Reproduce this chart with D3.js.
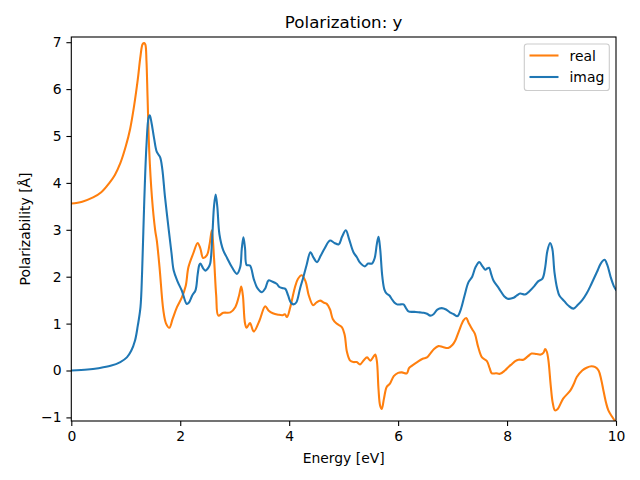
<!DOCTYPE html>
<html><head><meta charset="utf-8">
<script src="https://cdn.jsdelivr.net/npm/d3@7"></script>
<style>body{margin:0;background:#fff}svg{display:block;font-family:"DejaVu Sans",sans-serif}</style>
</head><body><svg id="c" width="640" height="480"></svg>
<script>
const realE=[0,0.2,0.4,0.55,0.7,0.8,0.9,1.0,1.08,1.15,1.22,1.27,1.31,1.34,1.36,1.38,1.40,1.43,1.48,1.54,1.57,1.62,1.69,1.74,1.80,1.86,1.94,2.03,2.1,2.15,2.24,2.32,2.37,2.42,2.49,2.54,2.58,2.62,2.66,2.70,2.79,2.92,3.01,3.08,3.12,3.15,3.19,3.22,3.28,3.35,3.45,3.56,3.62,3.7,3.8,3.88,3.92,3.96,4.02,4.1,4.16,4.23,4.3,4.36,4.44,4.5,4.57,4.63,4.69,4.75,4.8,4.87,4.97,5.02,5.06,5.12,5.18,5.24,5.30,5.37,5.43,5.49,5.55,5.58,5.61,5.64,5.67,5.70,5.74,5.79,5.85,5.92,6.0,6.07,6.16,6.2,6.25,6.35,6.45,6.53,6.59,6.66,6.74,6.82,6.92,7.0,7.05,7.12,7.2,7.25,7.3,7.36,7.41,7.47,7.54,7.63,7.68,7.72,7.8,7.87,7.96,8.03,8.09,8.15,8.21,8.30,8.38,8.45,8.54,8.62,8.67,8.70,8.73,8.76,8.8,8.84,8.88,8.93,9.03,9.16,9.22,9.28,9.38,9.46,9.55,9.62,9.68,9.73,9.77,9.82,9.86,9.92,9.98,10.0];
const realV=[3.56,3.6,3.69,3.8,4.0,4.17,4.42,4.78,5.15,5.62,6.2,6.7,6.96,6.98,6.95,6.6,5.83,4.7,3.70,2.99,2.77,2.2,1.28,1.0,0.91,1.1,1.35,1.56,1.8,2.2,2.5,2.72,2.6,2.40,2.46,2.7,2.99,2.4,1.6,1.17,1.23,1.24,1.35,1.6,1.79,1.6,1.0,0.91,1.01,0.83,1.05,1.37,1.28,1.22,1.19,1.18,1.2,1.14,1.35,1.75,1.95,2.03,1.9,1.6,1.39,1.45,1.49,1.45,1.42,1.3,1.1,1.0,0.92,0.75,0.4,0.21,0.18,0.18,0.13,0.22,0.28,0.21,0.3,0.34,0.2,-0.4,-0.75,-0.82,-0.6,-0.35,-0.28,-0.12,-0.05,-0.04,-0.06,0.05,0.1,0.18,0.25,0.28,0.36,0.46,0.52,0.50,0.48,0.55,0.64,0.85,1.07,1.12,1.0,0.88,0.78,0.5,0.28,0.2,0.05,-0.06,-0.06,-0.07,0.0,0.08,0.14,0.2,0.23,0.23,0.3,0.36,0.35,0.34,0.38,0.46,0.4,0.21,-0.3,-0.7,-0.85,-0.82,-0.6,-0.43,-0.3,-0.14,0.0,0.06,0.09,0.07,0.0,-0.2,-0.43,-0.7,-0.85,-0.97,-1.07,-1.08];
const imagE=[0,0.3,0.5,0.72,0.9,1.02,1.1,1.17,1.22,1.27,1.30,1.34,1.38,1.42,1.44,1.47,1.52,1.57,1.63,1.67,1.72,1.79,1.84,1.88,1.95,2.03,2.12,2.16,2.22,2.28,2.32,2.35,2.37,2.42,2.46,2.52,2.55,2.59,2.62,2.65,2.68,2.72,2.79,2.86,2.95,3.04,3.1,3.13,3.16,3.19,3.22,3.28,3.35,3.42,3.50,3.56,3.62,3.68,3.77,3.82,3.87,3.93,3.98,4.03,4.08,4.13,4.2,4.26,4.32,4.39,4.45,4.51,4.58,4.65,4.75,4.83,4.91,4.97,5.04,5.1,5.18,5.24,5.3,5.39,5.45,5.52,5.57,5.61,5.64,5.67,5.71,5.75,5.79,5.84,5.88,5.93,5.98,6.05,6.10,6.15,6.19,6.3,6.4,6.47,6.53,6.59,6.65,6.72,6.80,6.88,6.95,7.02,7.09,7.15,7.22,7.29,7.36,7.42,7.49,7.55,7.60,7.64,7.67,7.71,7.75,7.85,7.95,8.01,8.12,8.18,8.24,8.33,8.42,8.5,8.57,8.65,8.7,8.74,8.79,8.83,8.87,8.92,8.96,9.05,9.13,9.22,9.3,9.38,9.46,9.55,9.65,9.72,9.79,9.84,9.9,9.96,10.0];
const imagV=[0.0,0.02,0.05,0.1,0.18,0.28,0.42,0.64,0.95,1.35,2.1,3.63,4.8,5.4,5.44,5.3,4.95,4.66,4.55,4.3,3.7,2.99,2.5,2.13,1.9,1.7,1.42,1.45,1.6,1.71,2.05,2.25,2.28,2.18,2.13,2.2,2.28,2.9,3.5,3.75,3.5,2.9,2.56,2.4,2.2,2.06,2.2,2.6,2.84,2.6,2.25,2.24,1.95,1.75,1.67,1.75,1.92,1.9,1.85,1.78,1.76,1.74,1.6,1.45,1.41,1.45,1.75,1.99,2.25,2.52,2.4,2.31,2.45,2.6,2.77,2.72,2.69,2.85,2.99,2.8,2.52,2.42,2.3,2.22,2.28,2.28,2.4,2.7,2.85,2.6,2.0,1.72,1.64,1.6,1.53,1.45,1.41,1.41,1.41,1.32,1.26,1.25,1.24,1.23,1.21,1.17,1.2,1.3,1.33,1.3,1.24,1.2,1.16,1.3,1.6,1.88,2.0,2.2,2.31,2.22,2.15,2.18,2.19,2.05,1.92,1.75,1.58,1.53,1.55,1.6,1.64,1.62,1.7,1.8,1.9,1.96,2.2,2.55,2.72,2.6,2.1,1.75,1.60,1.48,1.38,1.32,1.4,1.5,1.64,1.85,2.1,2.28,2.36,2.25,2.0,1.8,1.72];
const xTicks=[0,2,4,6,8,10];
const yTicks=[-1,0,1,2,3,4,5,6,7];
const seriesNames=["real","imag"];
const seriesColors=["#ff7f0e","#1f77b4"];

const svg=d3.select("#c");
const L=71.3,R=616,T=37,B=421;
const x=d3.scaleLinear().domain([0,10]).range([L,R]);
const y=d3.scaleLinear().domain([-1,7]).range([417.4,42.2]);
const fs="13.9px";

svg.append("clipPath").attr("id","cl").append("rect").attr("x",L).attr("y",T).attr("width",R-L).attr("height",B-T);
const line=d3.line().x(d=>x(d[0])).y(d=>y(d[1])).curve(d3.curveCatmullRom.alpha(0.5));
const data=[d3.zip(realE,realV),d3.zip(imagE,imagV)];
const g=svg.append("g").attr("clip-path","url(#cl)");
data.forEach((d,i)=>g.append("path").datum(d).attr("d",line).attr("fill","none").attr("stroke",seriesColors[i]).attr("stroke-width",2.08).attr("stroke-linejoin","round").attr("stroke-linecap","square"));

const xa=svg.append("g").attr("transform",`translate(0,${B})`).call(d3.axisBottom(x).tickValues(xTicks).tickFormat(d3.format("d")).tickSize(4.9).tickPadding(4.9));
const ya=svg.append("g").attr("transform",`translate(${L},0)`).call(d3.axisLeft(y).tickValues(yTicks).tickFormat(d=>d<0?"\u2212"+(-d):d).tickSize(4.9).tickPadding(4.9));
[xa,ya].forEach(a=>{a.select(".domain").remove();a.selectAll("line").attr("stroke","#000").attr("stroke-width",1.1);a.selectAll("text").attr("font-size",fs).attr("font-family","DejaVu Sans").attr("fill","#000");});

svg.append("rect").attr("x",L).attr("y",T).attr("width",R-L).attr("height",B-T).attr("fill","none").attr("stroke","#000").attr("stroke-width",1.1);

svg.append("text").attr("x",(L+R)/2).attr("y",28).attr("text-anchor","middle").attr("font-size","16.67px").text("Polarization: y");
svg.append("text").attr("x",(L+R)/2).attr("y",463).attr("text-anchor","middle").attr("font-size",fs).text("Energy [eV]");
svg.append("text").attr("transform",`translate(30,${(T+B)/2}) rotate(-90)`).attr("text-anchor","middle").attr("font-size",fs).text("Polarizability [Å]");

const lg=svg.append("g");
lg.append("rect").attr("x",524.3).attr("y",44).attr("width",85).attr("height",46.5).attr("rx",2.8).attr("fill","#fff").attr("fill-opacity",0.8).attr("stroke","#cccccc").attr("stroke-width",1.1);
seriesNames.forEach((n,i)=>{
  const yy=55.5+i*21.5;
  lg.append("line").attr("x1",529.5).attr("x2",558.5).attr("y1",yy).attr("y2",yy).attr("stroke",seriesColors[i]).attr("stroke-width",2.08);
  lg.append("text").attr("x",569.5).attr("y",yy+5).attr("font-size",fs).text(n);
});
</script></body></html>
